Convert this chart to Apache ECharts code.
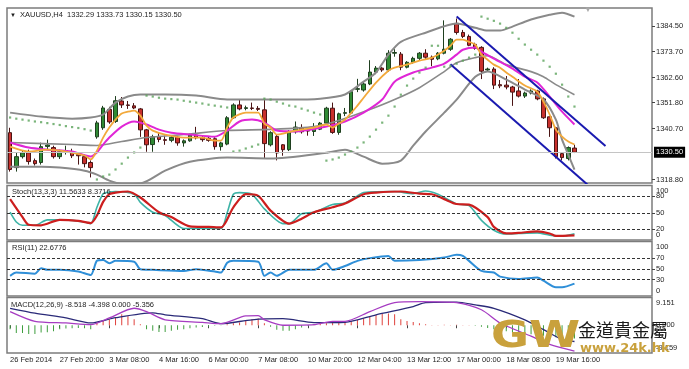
<!DOCTYPE html>
<html><head><meta charset="utf-8">
<script src="https://cdn.jsdelivr.net/npm/echarts@6/dist/echarts.min.js"></script>
<style>html,body{margin:0;padding:0;background:#fff}#c{width:689px;height:369px}</style>
</head><body><div id="c"></div>
<script>
// ---------- data ----------
const tickLabels = ['26 Feb 2014','27 Feb 20:00','3 Mar 08:00','4 Mar 16:00','6 Mar 00:00','7 Mar 08:00','10 Mar 20:00','12 Mar 04:00','13 Mar 12:00','17 Mar 00:00','18 Mar 08:00','19 Mar 16:00'];
const slotCount = 104; // 92 bars + chart shift space
const mainTicks = [1318.8,1340.7,1351.8,1362.6,1373.7,1384.5];
const lastPrice = 1330.50;

const open  = [1338.9,1323.9,1328.6,1330.3,1326.9,1326.1,1333.0,1332.5,1328.6,1330.7,1330.7,1329.5,1328.6,1326.1,1337.1,1341.0,1348.9,1343.7,1352.5,1350.8,1350.4,1349.1,1340.1,1333.8,1337.3,1335.9,1335.6,1337.0,1334.5,1335.4,1337.9,1336.8,1336.5,1336.3,1332.9,1334.0,1345.3,1350.8,1349.3,1349.5,1349.3,1348.7,1333.7,1337.3,1333.7,1331.6,1339.3,1341.0,1339.8,1339.4,1340.4,1343.0,1349.4,1339.0,1347.2,1347.3,1357.5,1357.2,1359.8,1364.9,1366.6,1365.8,1373.0,1372.6,1367.0,1369.1,1370.8,1373.0,1371.3,1370.6,1373.0,1374.7,1385.8,1381.9,1380.2,1376.8,1375.5,1365.8,1366.2,1359.5,1359.3,1358.5,1356.8,1354.6,1355.9,1356.8,1353.4,1345.7,1341.0,1329.9,1327.8,1332.29];
const close = [1323.1,1328.6,1330.3,1326.5,1325.6,1332.9,1333.6,1328.6,1330.7,1331.2,1329.0,1329.0,1325.6,1323.9,1343.1,1349.5,1343.5,1352.6,1350.8,1350.6,1349.5,1340.1,1333.7,1337.1,1336.0,1335.6,1336.9,1334.5,1335.4,1337.9,1336.7,1335.9,1335.6,1332.9,1334.5,1345.3,1350.8,1349.1,1349.6,1349.3,1348.9,1334.2,1338.9,1330.2,1331.6,1339.4,1341.3,1339.3,1339.6,1340.4,1343.0,1349.4,1339.0,1347.0,1347.5,1356.5,1357.8,1359.8,1364.9,1366.6,1365.8,1373.0,1373.3,1367.0,1369.1,1370.8,1373.0,1371.3,1370.4,1373.0,1374.7,1379.0,1381.9,1380.2,1376.4,1375.1,1365.3,1366.2,1359.3,1359.0,1358.5,1356.3,1354.6,1355.9,1356.8,1353.4,1345.3,1341.0,1328.6,1328.2,1332.5,1330.50];
const low   = [1322.2,1322.2,1327.8,1325.2,1324.8,1325.2,1331.6,1327.8,1327.6,1329.5,1328.0,1325.2,1324.0,1319.7,1336.3,1340.1,1342.7,1343.1,1349.5,1349.1,1349.0,1337.1,1330.7,1330.7,1334.8,1333.7,1334.8,1333.3,1332.9,1335.0,1336.0,1335.0,1335.0,1331.6,1331.2,1333.5,1344.8,1348.5,1348.5,1348.6,1348.2,1327.8,1333.0,1327.0,1329.0,1331.0,1338.5,1338.5,1337.6,1337.5,1340.0,1342.5,1338.4,1338.0,1346.0,1347.0,1356.3,1356.5,1359.3,1364.0,1365.0,1365.0,1371.5,1365.7,1366.5,1368.5,1370.0,1370.5,1367.4,1370.0,1372.5,1374.0,1381.0,1379.5,1376.0,1374.5,1361.9,1365.0,1357.6,1358.0,1357.5,1350.4,1354.0,1353.8,1355.3,1352.8,1344.8,1337.1,1327.8,1327.0,1327.0,1330.15];
const high  = [1341.0,1330.3,1331.2,1331.6,1327.8,1334.6,1335.9,1333.3,1331.6,1333.3,1332.0,1330.5,1329.5,1327.0,1344.0,1350.4,1350.0,1354.6,1354.2,1352.5,1351.6,1349.5,1340.5,1338.0,1338.8,1337.6,1337.8,1337.5,1336.0,1338.5,1341.4,1337.5,1337.2,1337.0,1335.0,1346.0,1351.5,1353.0,1350.5,1351.8,1350.3,1353.4,1339.5,1338.0,1334.0,1340.0,1343.7,1342.5,1341.0,1343.0,1343.5,1350.0,1351.8,1347.5,1349.5,1357.0,1362.0,1361.0,1370.0,1367.5,1367.0,1374.3,1374.7,1373.5,1369.6,1371.5,1373.5,1374.7,1372.0,1373.5,1387.1,1379.5,1387.9,1383.0,1381.0,1377.5,1376.0,1366.8,1367.0,1361.5,1363.2,1359.0,1361.9,1356.5,1357.5,1357.3,1354.0,1346.0,1341.4,1330.5,1333.0,1333.73];

const bbUpper = [[0,1347.5],[5,1345.8],[10,1344.9],[13,1345.4],[15,1346.7],[17,1351.8],[19,1354.4],[21,1355.3],[25,1355.3],[30,1354.8],[35,1353.1],[40,1353.1],[45,1353.1],[50,1353.5],[54,1355.3],[57,1360.8],[59,1364.7],[61,1372.4],[63,1377.9],[67,1381.8],[72,1385.7],[75,1383.9],[77,1382.7],[79,1382.7],[81,1384.4],[83,1386.5],[85,1388.2],[87,1389.5],[89,1390.4],[91,1388.7]];
const bbMid   = [[0,1334.7],[10,1333.8],[14,1333.4],[18,1335.1],[22,1336.8],[28,1338.1],[35,1339.8],[42,1340.3],[49,1341.5],[53,1344.1],[58,1348.8],[62,1353.1],[66,1358.2],[70,1365.1],[72,1368.9],[75,1371.1],[77,1371.9],[80,1368.1],[84,1365.1],[86,1362.9],[88,1359.5],[91,1355.2]];
const bbLower = [[0,1324.3],[5,1324.3],[8,1323.9],[12,1322.6],[14,1320.9],[16,1318.3],[18,1317.0],[21,1317.1],[25,1322.6],[29,1326.4],[35,1328.2],[42,1327.8],[51,1330.3],[54,1331.6],[57,1328.6],[60,1325.6],[63,1326.9],[65,1333.3],[67,1339.4],[70,1347.5],[72,1353.1],[75,1362.9],[77,1365.1],[80,1361.7],[83,1357.4],[86,1353.1],[88,1344.5],[89,1335.9],[90,1329.5],[91,1323.0]];
const maFast  = [[0,1332.9],[3,1330.8],[6,1331.6],[9,1330.8],[12,1329.1],[13,1327.4],[14,1331.2],[15,1336.8],[16,1341.1],[17,1344.5],[18,1347.1],[19,1347.9],[20,1348.4],[21,1346.2],[22,1341.9],[23,1339.8],[25,1338.1],[28,1336.8],[31,1336.8],[33,1335.5],[34,1335.5],[35,1341.1],[36,1345.4],[38,1347.5],[40,1347.5],[41,1342.8],[42,1341.1],[43,1338.1],[44,1338.5],[46,1339.8],[49,1341.1],[51,1342.4],[52,1341.1],[53,1342.8],[54,1344.5],[56,1350.5],[57,1353.9],[59,1360.4],[61,1365.5],[62,1366.8],[64,1368.1],[66,1369.8],[68,1371.1],[70,1374.1],[71,1376.2],[72,1378.8],[73,1378.8],[74,1377.9],[75,1376.7],[76,1372.4],[77,1370.2],[78,1368.1],[79,1366.8],[80,1364.7],[81,1362.9],[83,1359.1],[85,1356.5],[86,1352.2],[87,1346.7],[88,1340.2],[89,1337.2],[90,1335.1],[91,1333.8]];
const maSlow  = [[0,1334.7],[3,1332.5],[6,1331.6],[10,1330.8],[13,1328.7],[14,1330.4],[15,1333.8],[16,1336.8],[18,1341.5],[20,1343.7],[21,1343.2],[22,1342.4],[24,1340.2],[26,1338.9],[29,1338.1],[33,1337.2],[35,1339.8],[37,1343.7],[39,1344.5],[41,1343.2],[43,1339.8],[46,1339.4],[51,1341.5],[54,1343.7],[57,1347.5],[60,1353.1],[62,1360.8],[65,1364.7],[68,1366.8],[70,1368.5],[72,1372.4],[73,1374.5],[75,1375.4],[76,1373.7],[78,1370.7],[81,1366.4],[83,1362.9],[85,1360.4],[87,1354.4],[89,1347.9],[91,1342.4]];
const sar = [1345.4,1344.9,1344.5,1344.1,1343.7,1343.4,1343.0,1342.6,1342.2,1341.7,1341.3,1340.9,1340.4,1339.8,1318.8,1320.1,1320.9,1323.1,1325.6,1328.2,1330.4,1332.5,1354.8,1354.4,1353.9,1353.5,1353.3,1353.1,1352.6,1352.2,1351.8,1351.4,1350.9,1350.5,1350.1,1349.7,1330.8,1331.2,1332.1,1332.9,1333.8,1353.5,1353.1,1352.2,1351.4,1350.5,1350.1,1349.2,1348.4,1347.5,1346.7,1326.9,1327.4,1328.2,1329.5,1330.8,1332.5,1334.7,1337.2,1340.2,1343.2,1346.2,1350.1,1355.2,1359.1,1362.1,1364.7,1366.8,1376.2,1376.2,1367.2,1367.6,1368.5,1369.8,1371.1,1372.4,1388.7,1387.8,1386.9,1385.7,1383.9,1381.8,1379.2,1376.7,1374.5,1372.4,1369.8,1367.2,1364.2,1359.5,1354.4,1350.1];
const channelUpper = [[72,1388.8],[96,1333.2]];
const channelLower = [[71,1368.3],[94,1314.5]];

const stochK = [[0,51],[1,33],[2,27],[4,27],[6,37],[9,37],[12,33],[13,30],[14,60],[15,85],[16,88],[17,89],[20,84],[21,69],[23,51],[25,45],[28,21],[31,21],[34,21],[35,50],[36,84],[37,87],[39,84],[41,57],[44,30],[45,30],[47,48],[49,51],[52,65],[54,68],[56,81],[57,87],[62,89],[65,85],[67,90],[69,84],[71,72],[72,66],[74,63],[76,36],[78,18],[80,11],[82,12],[85,13],[87,9],[89,7],[91,11.56]];
const stochD = [[0,75],[2,42],[3,28],[5,27],[8,37],[11,35],[13,31],[14,45],[15,70],[16,84],[17,87],[19,89],[21,78],[24,51],[26,42],[29,25],[32,24],[34,23],[36,60],[38,84],[40,81],[42,54],[45,30],[47,39],[49,51],[52,60],[54,67],[57,84],[59,87],[63,89],[66,85],[68,84],[70,75],[72,66],[74,65],[77,42],[78,24],[80,12],[82,13],[85,16],[87,12],[88,7.4],[91,8.37]];
const stochLevels = [20,50,80];
const stochTicks = [20,50,80];
const stochEndTicks = [0,100];

const rsi = [[0,37],[1,43],[4,41],[5,51],[6,48],[8,48],[11,45],[13,38.5],[14,64.5],[15,66],[16,60],[17,64.5],[20,63],[21,49],[23,48],[28,46],[30,49],[33,45],[34,43],[35,61],[36,64.5],[40,63],[41,37],[42,43],[43,37],[45,48],[49,48],[51,60],[52,48],[54,55],[56,64.5],[58,69.5],[61,73.6],[62,64.5],[66,66],[70,70.5],[72,75.5],[73,73.6],[74,64.5],[76,46],[78,43],[79,35.5],[82,31],[85,34],[86,28],[88,16],[89,16],[91,22.68]];
const rsiLevels = [30,50,70];
const rsiTicks = [30,50,70];
const rsiEndTicks = [0,100];

const macdHist = [-1.3,-2.6,-2.6,-2.9,-2.9,-2.4,-2.3,-2.0,-1.3,-1.1,-1.0,-0.9,-1.0,-1.3,0.9,1.4,2.0,2.7,3.6,3.0,2.0,0.3,-1.3,-1.85,-2.2,-2.2,-1.85,-1.5,-1.3,-1.0,-0.75,-0.55,-0.45,-0.2,-0.1,0.3,0.65,0.9,1.4,2.0,2.2,0.65,-0.5,-1.5,-1.85,-1.85,-1.3,-0.75,-0.2,0.3,0.55,0.65,0.9,1.1,1.1,1.4,1.75,2.2,2.8,3.4,3.7,3.9,3.6,2.0,1.4,1.1,0.65,0.3,0.1,0.05,0.15,0.05,0.15,0.1,0.05,-0.2,-0.5,-0.9,-1.3,-1.7,-2.0,-2.3,-2.5,-2.7,-3.0,-3.2,-3.5,-3.8,-4.0,-4.2,-4.3,-4.4];
const macdMain = [[0,4.5],[4,1.3],[9,0.75],[13,0.2],[16,2.4],[20,5.6],[22,4.5],[25,1.8],[31,0.95],[34,0.5],[38,3.1],[40,3.2],[41,1.8],[44,0],[49,0.2],[52,1.3],[54,1.3],[58,4.5],[62,7.45],[66,7.8],[72,7.45],[76,5.1],[79,0.75],[84,-3.6],[87,-6.3],[91,-8.52]];
const macdSignal = [[0,5.6],[4,4.0],[9,2.4],[13,0.75],[17,2.5],[23,4.1],[25,3.45],[31,2.15],[34,0.5],[39,1.8],[44,2.15],[49,0.85],[54,0.95],[59,3.45],[65,6.15],[67,7.45],[72,7.6],[75,6.7],[78,5.6],[83,1.8],[86,-1.45],[89,-4.7],[91,-5.36]];
const macdRange = [-9.159, 9.151];
const macdTicks = [0];
const macdEndTicks = [-9.159, 9.151];

// ---------- chart ----------
const categories = Array.from({length: slotCount}, (_, i) => String(i));
const candles = open.map((o, i) => [o, close[i], low[i], high[i]]);
const F = '"Liberation Sans", Arial, sans-serif';
const FS = 7.5;
const TXT = '#1e1e1e';

const gridBase = {left: 7, right: 37, show: true, borderColor: '#7c7c7c', borderWidth: 1.5, backgroundColor: '#fff'};
const grids = [
  Object.assign({top: 8, height: 175}, gridBase),
  Object.assign({top: 185.5, height: 54.5}, gridBase),
  Object.assign({top: 241.5, height: 54.5}, gridBase),
  Object.assign({top: 297.5, height: 55.5}, gridBase)
];

const xAxes = grids.map((g, i) => ({
  type: 'category', gridIndex: i, data: categories, boundaryGap: true,
  axisLine: {show: false}, splitLine: {show: false},
  axisTick: i === 3 ? {show: true, length: 3, alignWithLabel: true, lineStyle: {color: '#444'},
    interval: (idx) => idx % 8 === 0 && idx / 8 < tickLabels.length} : {show: false},
  axisLabel: i === 3 ? {show: true, fontFamily: F, fontSize: FS, color: TXT, align: 'left', margin: 3,
    interval: (idx) => idx % 8 === 0 && idx / 8 < tickLabels.length,
    formatter: (v, idx) => tickLabels[idx / 8] || ''} : {show: false}
}));

const richShift = {
  t: {fontFamily: F, fontSize: FS, color: TXT, padding: [10, 0, 0, 0]},
  b: {fontFamily: F, fontSize: FS, color: TXT, padding: [0, 0, 10, 0]}
};
function yAx(gi, min, max, ticks, fmt, shiftEnds, showTick) {
  return {
    type: 'value', gridIndex: gi, position: 'right', min: min, max: max,
    axisLine: {show: false}, splitLine: {show: false},
    axisTick: {show: showTick !== false, length: 3, customValues: ticks, lineStyle: {color: '#444'}},
    axisLabel: {show: true, customValues: ticks, fontFamily: F, fontSize: FS, color: TXT, margin: 4,
      hideOverlap: false, showMinLabel: true, showMaxLabel: true,
      rich: richShift,
      formatter: (v) => {
        const s = fmt(v);
        if (shiftEnds && Math.abs(v - max) < 1e-6) return '{t|' + s + '}';
        if (shiftEnds && Math.abs(v - min) < 1e-6) return '{b|' + s + '}';
        return s;
      }}
  };
}
const intFmt = v => String(Math.round(v));
const yAxes = [
  yAx(0, 1317.3, 1392.4, mainTicks, v => v.toFixed(2), false),
  yAx(1, 0, 100, stochTicks, intFmt, false),
  yAx(2, 0, 100, rsiTicks, intFmt, false),
  yAx(3, macdRange[0], macdRange[1], macdTicks, v => v.toFixed(3), false),
  yAx(1, 0, 100, stochEndTicks, intFmt, true, false),
  yAx(2, 0, 100, rsiEndTicks, intFmt, true, false),
  yAx(3, macdRange[0], macdRange[1], macdEndTicks, v => v.toFixed(3), true, false)
];

function line(data, color, width, xi, extra) {
  return Object.assign({type: 'line', xAxisIndex: xi, yAxisIndex: xi, data: data, symbol: 'none',
    lineStyle: {color: color, width: width}, smooth: 0.25, z: 3, silent: true, clip: true}, extra || {});
}
function levels(vals) {
  return {silent: true, symbol: 'none', label: {show: false}, animation: false,
    lineStyle: {type: [3, 2], color: '#333', width: 1}, data: vals.map(v => ({yAxis: v}))};
}

const series = [
  {type: 'candlestick', xAxisIndex: 0, yAxisIndex: 0, data: candles, barWidth: 4, z: 2,
   itemStyle: {color: '#2f8a34', color0: '#c8302c', borderColor: '#1f3f1f', borderColor0: '#4a1414', borderWidth: 1},
   markLine: {silent: true, symbol: 'none', animation: false,
     lineStyle: {color: '#c4c4c4', width: 1, type: 'solid'},
     label: {show: true, position: 'end', distance: 2, formatter: () => lastPrice.toFixed(2),
       color: '#fff', backgroundColor: '#000', padding: [2, 2, 1, 2], fontFamily: F, fontSize: FS},
     data: [{yAxis: lastPrice}]}},
  line(bbUpper, '#8a8a8a', 2, 0),
  line(bbMid, '#8a8a8a', 1.6, 0),
  line(bbLower, '#8a8a8a', 2, 0),
  line(maSlow, '#e026d6', 2, 0),
  line(maFast, '#f2a93b', 1.8, 0),
  {type: 'scatter', xAxisIndex: 0, yAxisIndex: 0, data: sar.map((v, i) => [i, v]), symbol: 'rect', symbolSize: 2.2,
   itemStyle: {color: '#5aa35a'}, z: 3, silent: true},
  line(channelUpper, '#1a1ab0', 2, 0, {smooth: false}),
  line(channelLower, '#1a1ab0', 2, 0, {smooth: false}),

  line(stochK, '#3db3a6', 1.6, 1, {markLine: levels(stochLevels)}),
  line(stochD, '#cc1e1e', 2.2, 1),

  line(rsi, '#2f8fd8', 2, 2, {markLine: levels(rsiLevels)}),

  {type: 'bar', xAxisIndex: 3, yAxisIndex: 3, data: macdHist, barWidth: 1, silent: true, z: 2,
   itemStyle: {color: (p) => p.value >= 0 ? '#e0413c' : '#3e9e3e'}},
  line(macdSignal, '#2a2a78', 1.3, 3),
  line(macdMain, '#a63cc2', 1.3, 3)
];

const T = (x, y, text, size, extra) => ({type: 'text', x: x, y: y, z: 100, silent: true,
  style: Object.assign({text: text, fill: TXT, fontFamily: F, fontSize: size, verticalAlign: 'middle', align: 'left'}, extra || {})});

const graphic = [
  T(10, 15, '▼', 6),
  T(20, 15, 'XAUUSD,H4  1332.29 1333.73 1330.15 1330.50', FS),
  T(584, 10, '▼', 8, {fill: '#a8a8a8'}),
  T(12, 191.5, 'Stoch(13,3,3) 11.5633 8.3716', FS),
  T(12, 248, 'RSI(11) 22.6776', FS),
  T(11, 305, 'MACD(12,26,9) -8.518 -4.398 0.000 -5.356', FS),
  {type: 'text', x: 491, y: 337.5, z: 101, silent: true, scaleX: 1.16, scaleY: 0.95,
   style: {text: 'GW', fill: '#c9a13c', fontFamily: '"DejaVu Sans", sans-serif', fontWeight: 'bold', fontSize: 40, verticalAlign: 'middle', align: 'left'}},
  T(578, 330, '金道貴金屬', 18, {fontFamily: '"Noto Sans CJK TC", sans-serif', fill: '#1a1a1a'}),
  T(580, 349, 'www.24k.hk', 13, {fontFamily: '"DejaVu Sans", sans-serif', fontWeight: 'bold', fill: '#c9a13c'})
];

const chart = echarts.init(document.getElementById('c'), null, {renderer: 'canvas'});
chart.setOption({
  backgroundColor: '#fff', animation: false,
  grid: grids, xAxis: xAxes, yAxis: yAxes, series: series, graphic: graphic
});
</script></body></html>
